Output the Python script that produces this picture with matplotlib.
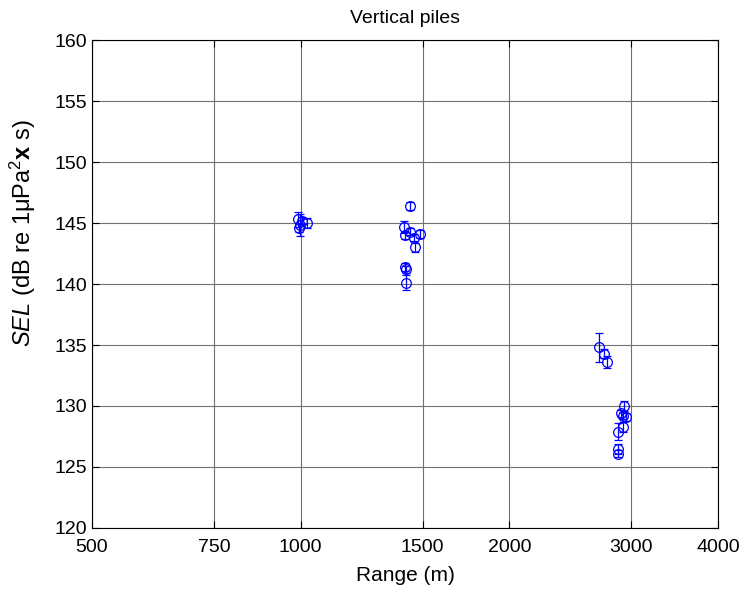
import numpy as np
import matplotlib
matplotlib.use('Agg')
from matplotlib import pyplot as plt
from matplotlib.ticker import FixedLocator, NullLocator

plt.rcParams['font.family'] = ['Liberation Sans', 'DejaVu Sans']
plt.rcParams['mathtext.fontset'] = 'custom'
plt.rcParams['mathtext.rm'] = 'Liberation Sans'
plt.rcParams['mathtext.it'] = 'Liberation Sans:italic'
plt.rcParams['mathtext.bf'] = 'Liberation Sans:bold'

# range (m), SEL (dB) and half error bar (dB)
range_m = [990, 998, 1005, 1020, 995,
           1438, 1411, 1415, 1439, 1455, 1485, 1464, 1415, 1420, 1419,
           2697, 2740, 2770,
           2926, 2898, 2915, 2947, 2920, 2870, 2868, 2868]
sel_db = [145.3, 144.8, 145.2, 145.0, 144.6,
          146.4, 144.7, 144.0, 144.3, 143.8, 144.1, 143.0, 141.4, 141.2, 140.1,
          134.8, 134.3, 133.6,
          130.0, 129.4, 129.2, 129.1, 128.3, 127.9, 126.5, 126.1]
err_db = [0.6, 0.9, 0.3, 0.4, 0.3,
          0.3, 0.5, 0.3, 0.3, 0.3, 0.3, 0.4, 0.3, 0.3, 0.6,
          1.2, 0.4, 0.5,
          0.4, 0.3, 0.3, 0.3, 0.4, 0.7, 0.4, 0.3]

xticks = [500, 750, 1000, 1500, 2000, 3000, 4000]
yticks = np.arange(120, 161, 5)

fig = plt.figure(figsize=(7.39, 5.89), dpi=100)
ax = fig.add_axes([0.1245, 0.1036, 0.847, 0.8284])

ax.errorbar(range_m, sel_db, yerr=err_db, fmt='o', mfc='none', mec='#0000ff',
            ecolor='#0000ff', ms=7, mew=0.9, elinewidth=0.9, capsize=3, capthick=0.9)

ax.set_xscale('log')
ax.set_xlim(500, 4000)
ax.set_ylim(120, 160)
ax.xaxis.set_major_locator(FixedLocator(xticks))
ax.xaxis.set_minor_locator(NullLocator())
ax.set_xticklabels([str(t) for t in xticks])
ax.set_yticks(yticks)

ax.grid(True, color='#707070', linewidth=0.8)
ax.set_axisbelow(True)
ax.tick_params(direction='in', labelsize=14, length=5, top=True, right=True)
ax.tick_params(axis='x', pad=8)
for s in ax.spines.values():
    s.set_linewidth(0.8)

ax.set_xlabel('Range (m)', fontsize=15)
ax.xaxis.set_label_coords(0.5, -0.078)
ax.set_ylabel(r'$\it{SEL}$ (dB re 1μPa$^{2}$$\bf{x}$ s)', fontsize=17)
ax.yaxis.set_label_coords(-0.086, 0.605)
ax.set_title('Vertical piles', fontsize=14, pad=12)

plt.savefig('out.png', dpi=100)
